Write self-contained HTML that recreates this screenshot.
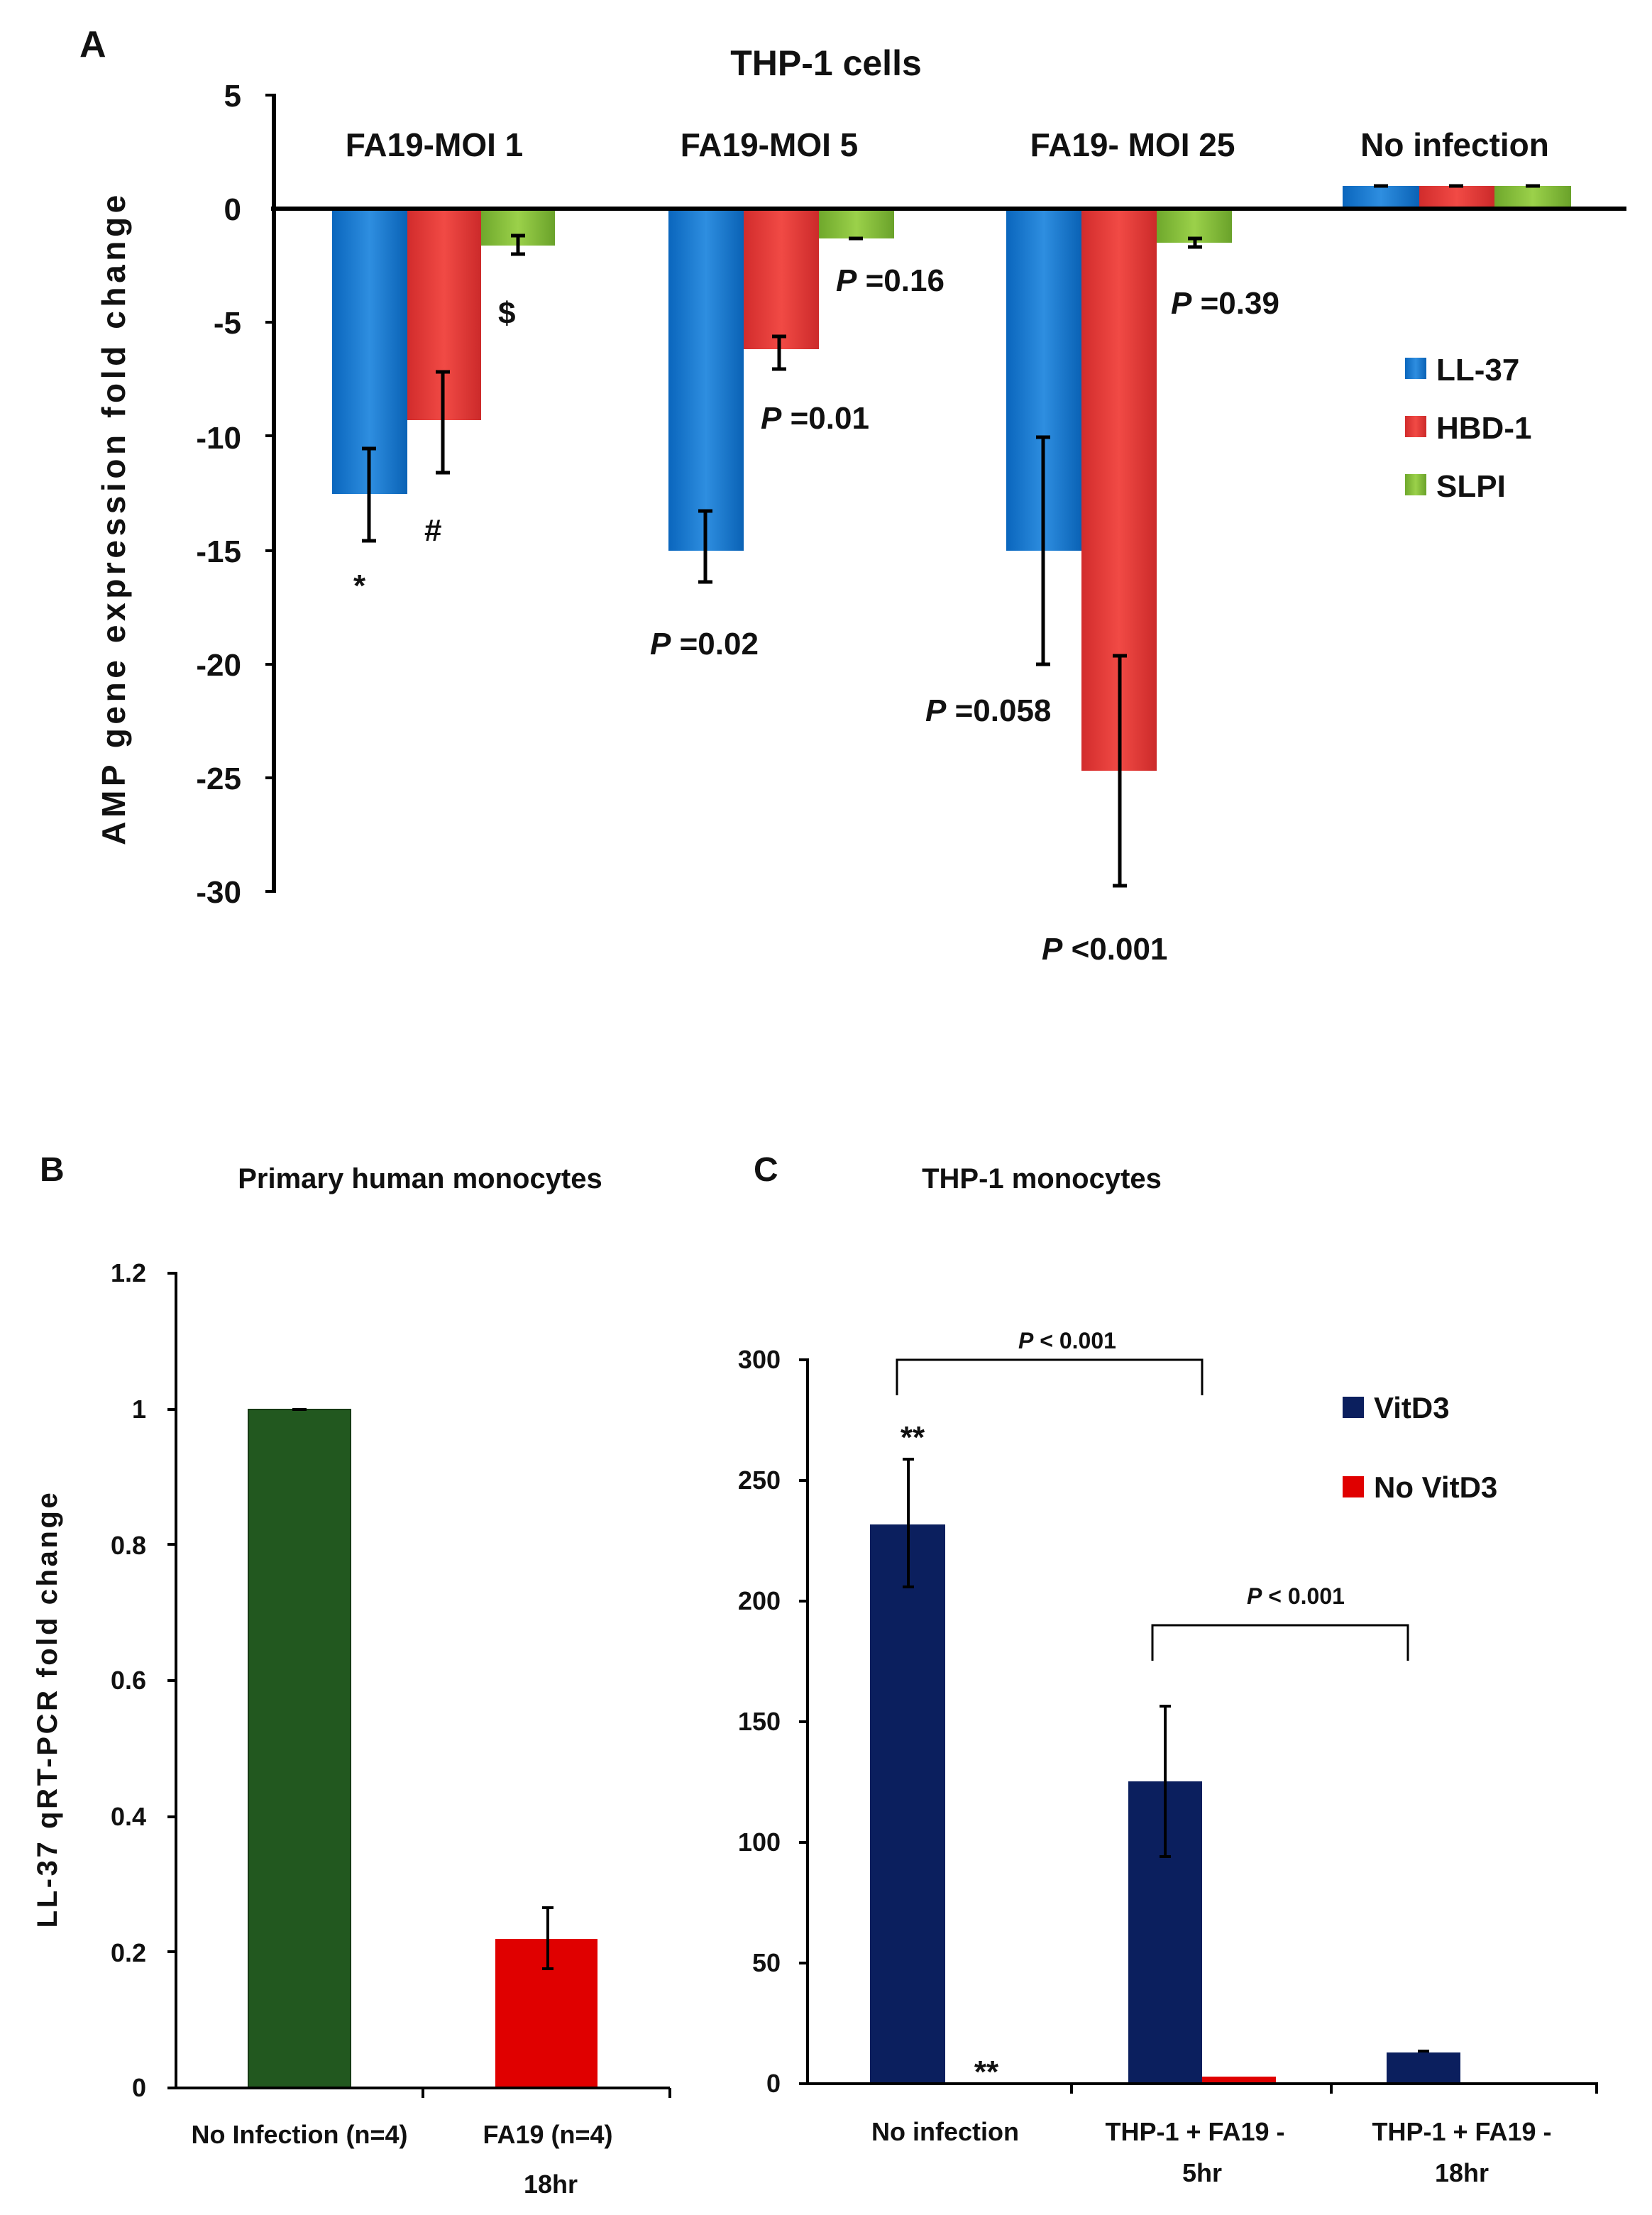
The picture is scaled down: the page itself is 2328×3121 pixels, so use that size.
<!DOCTYPE html>
<html><head><meta charset="utf-8"><style>
html,body{margin:0;padding:0;background:#fff;}
svg{display:block;}
text{font-family:"Liberation Sans",Arial,sans-serif;font-weight:bold;fill:#111;}
</style></head><body>
<svg width="2328" height="3121" viewBox="0 0 1164 1560.5" xmlns="http://www.w3.org/2000/svg">
<defs>
<linearGradient id="gb" x1="0" x2="1"><stop offset="0" stop-color="#0a66bd"/><stop offset="0.5" stop-color="#2e8ee0"/><stop offset="1" stop-color="#0a62b5"/></linearGradient>
<linearGradient id="gr" x1="0" x2="1"><stop offset="0" stop-color="#d22c2c"/><stop offset="0.5" stop-color="#f14a45"/><stop offset="1" stop-color="#cc2a2a"/></linearGradient>
<linearGradient id="gg" x1="0" x2="1"><stop offset="0" stop-color="#6fa82c"/><stop offset="0.5" stop-color="#9bd14a"/><stop offset="1" stop-color="#6aa22a"/></linearGradient>
</defs>
<rect width="1164" height="1560.5" fill="#fff"/>

<!-- Panel A -->
<text x="56" y="40" font-size="26">A</text>
<text x="582" y="53" font-size="25" text-anchor="middle">THP-1 cells</text>
<g font-size="22" text-anchor="end">
<text x="170" y="75">5</text><text x="170" y="155">0</text><text x="170" y="235">-5</text>
<text x="170" y="316">-10</text><text x="170" y="396">-15</text><text x="170" y="476">-20</text>
<text x="170" y="556">-25</text><text x="170" y="636">-30</text>
</g>
<text transform="translate(88,365) rotate(-90)" font-size="23" letter-spacing="2.8" text-anchor="middle">AMP gene expression  fold change</text>
<rect x="234" y="147" width="53" height="201" fill="url(#gb)"/>
<rect x="287" y="147" width="52" height="149" fill="url(#gr)"/>
<rect x="339" y="147" width="52" height="26" fill="url(#gg)"/>
<rect x="471" y="147" width="53" height="241" fill="url(#gb)"/>
<rect x="524" y="147" width="53" height="99" fill="url(#gr)"/>
<rect x="577" y="147" width="53" height="21" fill="url(#gg)"/>
<rect x="709" y="147" width="53" height="241" fill="url(#gb)"/>
<rect x="762" y="147" width="53" height="396" fill="url(#gr)"/>
<rect x="815" y="147" width="53" height="24" fill="url(#gg)"/>
<rect x="946" y="131" width="54" height="16" fill="url(#gb)"/>
<rect x="1000" y="131" width="53" height="16" fill="url(#gr)"/>
<rect x="1053" y="131" width="54" height="16" fill="url(#gg)"/>
<g stroke="#000" stroke-width="3">
<line x1="193" y1="66" x2="193" y2="629"/>
<line x1="191" y1="147" x2="1146" y2="147"/>
</g>
<g stroke="#000" stroke-width="2">
<line x1="187" y1="67" x2="193" y2="67"/><line x1="187" y1="227" x2="193" y2="227"/>
<line x1="187" y1="307" x2="193" y2="307"/><line x1="187" y1="388" x2="193" y2="388"/>
<line x1="187" y1="468" x2="193" y2="468"/><line x1="187" y1="548" x2="193" y2="548"/>
<line x1="187" y1="628" x2="193" y2="628"/>
</g>
<g stroke="#000" stroke-width="2.5">
<line x1="260" y1="316" x2="260" y2="381"/><line x1="255" y1="316" x2="265" y2="316"/><line x1="255" y1="381" x2="265" y2="381"/>
<line x1="312" y1="262" x2="312" y2="333"/><line x1="307" y1="262" x2="317" y2="262"/><line x1="307" y1="333" x2="317" y2="333"/>
<line x1="365" y1="166" x2="365" y2="179"/><line x1="360" y1="166" x2="370" y2="166"/><line x1="360" y1="179" x2="370" y2="179"/>
<line x1="497" y1="360" x2="497" y2="410"/><line x1="492" y1="360" x2="502" y2="360"/><line x1="492" y1="410" x2="502" y2="410"/>
<line x1="549" y1="237" x2="549" y2="260"/><line x1="544" y1="237" x2="554" y2="237"/><line x1="544" y1="260" x2="554" y2="260"/>
<line x1="598" y1="168" x2="608" y2="168"/>
<line x1="735" y1="308" x2="735" y2="468"/><line x1="730" y1="308" x2="740" y2="308"/><line x1="730" y1="468" x2="740" y2="468"/>
<line x1="789" y1="462" x2="789" y2="624"/><line x1="784" y1="462" x2="794" y2="462"/><line x1="784" y1="624" x2="794" y2="624"/>
<line x1="842" y1="168" x2="842" y2="174"/><line x1="837" y1="168" x2="847" y2="168"/><line x1="837" y1="174" x2="847" y2="174"/>
<line x1="968" y1="131" x2="978" y2="131"/><line x1="1021" y1="131" x2="1031" y2="131"/><line x1="1075" y1="131" x2="1085" y2="131"/>
</g>
<g font-size="23" text-anchor="middle">
<text x="306" y="110">FA19-MOI 1</text>
<text x="542" y="110">FA19-MOI 5</text>
<text x="798" y="110">FA19- MOI 25</text>
<text x="1025" y="110">No infection</text>
</g>
<g font-size="22">
<text x="249" y="420">*</text>
<text x="299" y="381">#</text>
<text x="351" y="228">$</text>
<text x="589" y="205"><tspan font-style="italic">P</tspan> =0.16</text>
<text x="536" y="302"><tspan font-style="italic">P</tspan> =0.01</text>
<text x="458" y="461"><tspan font-style="italic">P</tspan> =0.02</text>
<text x="652" y="508"><tspan font-style="italic">P</tspan> =0.058</text>
<text x="734" y="676"><tspan font-style="italic">P</tspan> &lt;0.001</text>
<text x="825" y="221"><tspan font-style="italic">P</tspan> =0.39</text>
</g>
<rect x="990" y="252" width="15" height="15" fill="url(#gb)"/>
<rect x="990" y="293" width="15" height="15" fill="url(#gr)"/>
<rect x="990" y="334" width="15" height="15" fill="url(#gg)"/>
<g font-size="22"><text x="1012" y="268">LL-37</text><text x="1012" y="309">HBD-1</text><text x="1012" y="350">SLPI</text></g>

<!-- Panel B -->
<text x="28" y="832" font-size="24">B</text>
<text x="296" y="837" font-size="20" text-anchor="middle">Primary human monocytes</text>
<g font-size="18" text-anchor="end">
<text x="103" y="903">1.2</text><text x="103" y="999">1</text><text x="103" y="1095">0.8</text>
<text x="103" y="1190">0.6</text><text x="103" y="1286">0.4</text><text x="103" y="1382">0.2</text><text x="103" y="1477">0</text>
</g>
<text transform="translate(40,1204) rotate(-90)" font-size="20" letter-spacing="1.8" text-anchor="middle">LL-37 qRT-PCR fold change</text>
<rect x="175" y="993" width="72" height="478" fill="#22581f" stroke="#163a14" stroke-width="1"/>
<rect x="349" y="1366" width="72" height="105" fill="#e00000"/>
<g stroke="#000" stroke-width="2">
<line x1="124" y1="896" x2="124" y2="1472"/><line x1="123" y1="1471" x2="472" y2="1471"/>
<line x1="118" y1="897" x2="124" y2="897"/><line x1="118" y1="993" x2="124" y2="993"/><line x1="118" y1="1088" x2="124" y2="1088"/>
<line x1="118" y1="1184" x2="124" y2="1184"/><line x1="118" y1="1280" x2="124" y2="1280"/><line x1="118" y1="1375" x2="124" y2="1375"/>
<line x1="118" y1="1471" x2="124" y2="1471"/>
<line x1="298" y1="1471" x2="298" y2="1478"/><line x1="472" y1="1471" x2="472" y2="1478"/>
<line x1="386" y1="1344" x2="386" y2="1387"/><line x1="382" y1="1344" x2="390" y2="1344"/><line x1="382" y1="1387" x2="390" y2="1387"/>
<line x1="206" y1="993" x2="216" y2="993"/>
</g>
<g font-size="18" text-anchor="middle">
<text x="211" y="1510">No Infection (n=4)</text>
<text x="386" y="1510">FA19 (n=4)</text>
<text x="388" y="1545">18hr</text>
</g>

<!-- Panel C -->
<text x="531" y="832" font-size="24">C</text>
<text x="734" y="837" font-size="20" text-anchor="middle">THP-1 monocytes</text>
<g font-size="18" text-anchor="end">
<text x="550" y="964">300</text><text x="550" y="1049">250</text><text x="550" y="1134">200</text>
<text x="550" y="1219">150</text><text x="550" y="1304">100</text><text x="550" y="1389">50</text><text x="550" y="1474">0</text>
</g>
<rect x="613" y="1074" width="53" height="394" fill="#0b1f5e"/>
<rect x="795" y="1255" width="52" height="213" fill="#0b1f5e"/>
<rect x="847" y="1463" width="52" height="5" fill="#e00000"/>
<rect x="977" y="1446" width="52" height="22" fill="#0b1f5e"/>
<g stroke="#000" stroke-width="2">
<line x1="569" y1="957" x2="569" y2="1469"/><line x1="568" y1="1468" x2="1126" y2="1468"/>
<line x1="563" y1="958" x2="569" y2="958"/><line x1="563" y1="1043" x2="569" y2="1043"/><line x1="563" y1="1128" x2="569" y2="1128"/>
<line x1="563" y1="1213" x2="569" y2="1213"/><line x1="563" y1="1298" x2="569" y2="1298"/><line x1="563" y1="1383" x2="569" y2="1383"/>
<line x1="563" y1="1468" x2="569" y2="1468"/>
<line x1="755" y1="1468" x2="755" y2="1475"/><line x1="938" y1="1468" x2="938" y2="1475"/><line x1="1125" y1="1468" x2="1125" y2="1475"/>
<line x1="640" y1="1028" x2="640" y2="1118"/><line x1="636" y1="1028" x2="644" y2="1028"/><line x1="636" y1="1118" x2="644" y2="1118"/>
<line x1="821" y1="1202" x2="821" y2="1308"/><line x1="817" y1="1202" x2="825" y2="1202"/><line x1="817" y1="1308" x2="825" y2="1308"/>
<line x1="999" y1="1445" x2="1007" y2="1445"/>
</g>
<g stroke="#000" stroke-width="1.5" fill="none">
<path d="M632 983 V958 H847 V983"/>
<path d="M812 1170 V1145 H992 V1170"/>
</g>
<g font-size="16" text-anchor="middle">
<text x="752" y="950"><tspan font-style="italic">P</tspan> &lt; 0.001</text>
<text x="913" y="1130"><tspan font-style="italic">P</tspan> &lt; 0.001</text>
</g>
<g font-size="22" text-anchor="middle">
<text x="643" y="1020">**</text>
<text x="695" y="1467">**</text>
</g>
<rect x="946" y="984" width="15" height="15" fill="#0b1f5e"/>
<rect x="946" y="1040" width="15" height="15" fill="#e00000"/>
<g font-size="21"><text x="968" y="999">VitD3</text><text x="968" y="1055">No VitD3</text></g>
<g font-size="18" text-anchor="middle">
<text x="666" y="1508">No infection</text>
<text x="842" y="1508">THP-1 + FA19 -</text>
<text x="847" y="1537">5hr</text>
<text x="1030" y="1508">THP-1 + FA19 -</text>
<text x="1030" y="1537">18hr</text>
</g>
</svg>
</body></html>
